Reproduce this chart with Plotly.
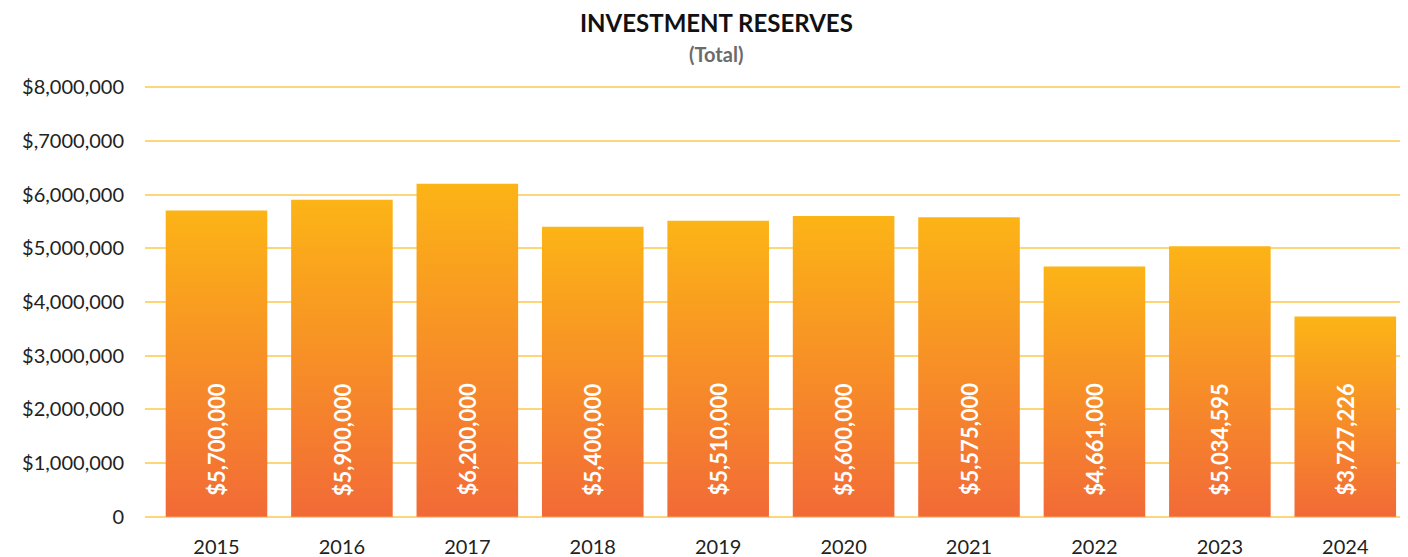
import plotly.graph_objects as go

years = ['2015', '2016', '2017', '2018', '2019', '2020', '2021', '2022', '2023', '2024']
reserves = [5700000, 5900000, 6200000, 5400000, 5510000, 5600000, 5575000, 4661000, 5034595, 3727226]
tick_vals = [0, 1000000, 2000000, 3000000, 4000000, 5000000, 6000000, 7000000, 8000000]
tick_text = ['0', '$1,000,000', '$2,000,000', '$3,000,000', '$4,000,000',
             '$5,000,000', '$6,000,000', '$,7000,000', '$8,000,000']

COLOR_TOP = '#FCB416'
COLOR_BOTTOM = '#F26A37'
GRID = '#FDD57A'
FONT = 'Lato, Open Sans, sans-serif'
half = 0.405

fig = go.Figure()

# bars drawn as filled shapes so each one gets its own vertical gradient
for i, v in enumerate(reserves):
    fig.add_trace(go.Scatter(
        x=[i - half, i - half, i + half, i + half, i - half],
        y=[0, v, v, 0, 0],
        mode='none',
        fill='toself',
        fillgradient=dict(type='vertical',
                          colorscale=[[0, COLOR_BOTTOM], [1, COLOR_TOP]]),
        hoverinfo='skip',
        showlegend=False,
    ))
    fig.add_annotation(
        x=i, y=0, yshift=19,
        text=f"${v:,.0f}",
        textangle=-90,
        showarrow=False,
        xanchor='center', yanchor='bottom',
        font=dict(family=FONT, size=22, color='white', weight='bold'),
    )

# title and subtitle
fig.add_annotation(
    text='<b>INVESTMENT RESERVES</b>',
    xref='paper', yref='paper', x=(716 - 137 - 8) / 1263, y=1, yshift=64,
    showarrow=False, xanchor='center', yanchor='middle',
    font=dict(family=FONT, size=24, color='#111111'),
)
fig.add_annotation(
    text='<b>(Total)</b>',
    xref='paper', yref='paper', x=(716 - 137 - 8) / 1263, y=1, yshift=32,
    showarrow=False, xanchor='center', yanchor='middle',
    font=dict(family=FONT, size=20, color='#6b6b6b'),
)

fig.update_layout(
    width=1400, height=549,
    margin=dict(l=137, r=0, t=78, b=40),
    paper_bgcolor='white',
    plot_bgcolor='white',
    font=dict(family=FONT, color='#222222'),
    xaxis=dict(
        range=[-0.57, 9.5],
        tickvals=list(range(len(years))),
        ticktext=years,
        showgrid=False, zeroline=False,
        ticks='', tickfont=dict(size=20, color='#222222'),
        ticklabelstandoff=16,
    ),
    yaxis=dict(
        range=[-4000, 8020000],
        tickvals=tick_vals,
        ticktext=tick_text,
        gridcolor=GRID, gridwidth=1.5,
        zeroline=True, zerolinecolor=GRID, zerolinewidth=1.5,
        ticks='', tickfont=dict(size=20, color='#222222'),
        ticklabelstandoff=20,
    ),
)

fig.write_html('out.html')
